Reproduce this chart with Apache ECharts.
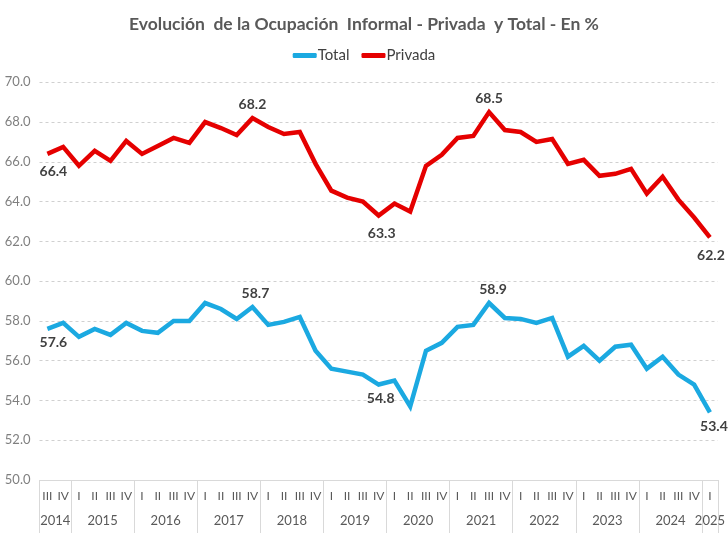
<!DOCTYPE html>
<html><head><meta charset="utf-8">
<script src="https://cdn.jsdelivr.net/npm/echarts@6/dist/echarts.min.js"></script>
<style>html,body{margin:0;padding:0;background:#fff}#c{width:728px;height:533px}</style>
</head><body><div id="c"></div>
<script>
const years = ['2014','2015','2016','2017','2018','2019','2020','2021','2022','2023','2024','2025'];
const quartersPerYear = [2,4,4,4,4,4,4,4,4,4,4,1];
const quarters = ['III','IV',
 'I','II','III','IV','I','II','III','IV','I','II','III','IV','I','II','III','IV',
 'I','II','III','IV','I','II','III','IV','I','II','III','IV','I','II','III','IV',
 'I','II','III','IV','I','II','III','IV','I'];
const totalValues = [57.6,57.9,57.2,57.6,57.3,57.9,57.5,57.4,58.0,58.0,58.9,58.6,58.1,58.7,57.8,57.95,58.2,56.5,55.6,55.45,55.3,54.8,55.0,53.7,56.5,56.9,57.7,57.8,58.9,58.15,58.1,57.9,58.15,56.2,56.75,56.0,56.7,56.8,55.6,56.2,55.3,54.8,53.4];
const privadaValues = [66.4,66.75,65.8,66.55,66.05,67.05,66.4,66.8,67.2,66.95,68.0,67.7,67.35,68.2,67.75,67.4,67.5,65.9,64.55,64.2,64.0,63.3,63.9,63.5,65.8,66.35,67.2,67.3,68.5,67.6,67.5,67.0,67.15,65.9,66.1,65.3,65.4,65.65,64.4,65.25,64.1,63.2,62.2];
const labeledIdx = [0,13,21,28,42];
const yTicks = {min:50, max:70, interval:2};

// Build half-slot year axis
const boundaries = new Set();
let pos = 0;
for (let i = 0; i < years.length; i++) {
  boundaries.add(pos * 2);
  pos += quartersPerYear[i];
}
boundaries.add(pos * 2);
const yearAxisData = new Array(pos * 2 + 1).fill('');
pos = 0;
for (let i = 0; i < years.length; i++) {
  yearAxisData[pos * 2 + quartersPerYear[i]] = years[i];
  pos += quartersPerYear[i];
}

const labelPos = {
  privada: {0:{position:'bottom',offset:[6,4]},13:{position:'top'},21:{position:'bottom',offset:[3,4]},28:{position:'top'},42:{position:'bottom',offset:[1,4]}},
  total: {0:{position:'bottom',offset:[6,0]},13:{position:'top',offset:[3,0]},21:{position:'bottom',offset:[2,0]},28:{position:'top',offset:[4,0]},42:{position:'bottom',offset:[4,0]}}
};
function buildData(vals, key) {
  return vals.map((v, i) => {
    if (labeledIdx.includes(i)) {
      return {value: v, label: Object.assign({show:true, formatter: p => p.value.toFixed(1)}, labelPos[key][i])};
    }
    return v;
  });
}
const labelStyle = {show:false, fontFamily:'Lato', fontWeight:'bold', fontSize:14, color:'#404040', distance:7};

const chart = echarts.init(document.getElementById('c'));
chart.setOption({
  backgroundColor:'#fff',
  animation:false,
  title:{text:'Evolución  de la Ocupación  Informal - Privada  y Total - En %', left:'center', top:10,
    textStyle:{fontFamily:'Lato', fontWeight:'bold', fontSize:17.5, color:'#595959'}},
  legend:{top:43, left:'center', itemGap:12, itemWidth:24, itemHeight:5, icon:'roundRect',
    textStyle:{fontFamily:'Lato', fontSize:15, color:'#404040', padding:[0,0,0,-4]},
    data:['Total','Privada']},
  grid:{left:39.5, right:10, top:82.3, bottom:53},
  xAxis:[
    {type:'category', data:quarters, boundaryGap:true,
     axisLine:{show:true, lineStyle:{color:'#d9d9d9', width:1}},
     axisTick:{show:false},
     axisLabel:{interval:0, margin:10, fontFamily:'Lato', fontSize:12, color:'#595959'}},
    {type:'category', data:yearAxisData, boundaryGap:false, position:'bottom',
     axisLine:{show:false},
     axisTick:{show:true, interval:(idx)=>boundaries.has(idx), length:55, lineStyle:{color:'#d9d9d9', width:1}},
     axisLabel:{interval:(idx, val)=>val !== '', margin:34, fontFamily:'Lato', fontSize:13, color:'#595959'}}
  ],
  yAxis:{type:'value', min:yTicks.min, max:yTicks.max, interval:yTicks.interval,
    axisLine:{show:false}, axisTick:{show:false},
    axisLabel:{formatter:v=>v.toFixed(1), margin:9, fontFamily:'Lato', fontSize:13, color:'#7f7f7f'},
    splitLine:{lineStyle:{type:[3,3], color:'#d0d0d0', width:1}}},
  series:[
    {name:'Total', type:'line', data:buildData(totalValues,'total'), symbol:'circle', symbolSize:0.01, showSymbol:true,
     lineStyle:{width:4.5, color:'#1BA9E1', join:'miter'}, itemStyle:{color:'#1BA9E1'}, label:labelStyle},
    {name:'Privada', type:'line', data:buildData(privadaValues,'privada'), symbol:'circle', symbolSize:0.01, showSymbol:true,
     lineStyle:{width:4.5, color:'#E50000', join:'miter'}, itemStyle:{color:'#E50000'}, label:labelStyle}
  ]
});
</script></body></html>
